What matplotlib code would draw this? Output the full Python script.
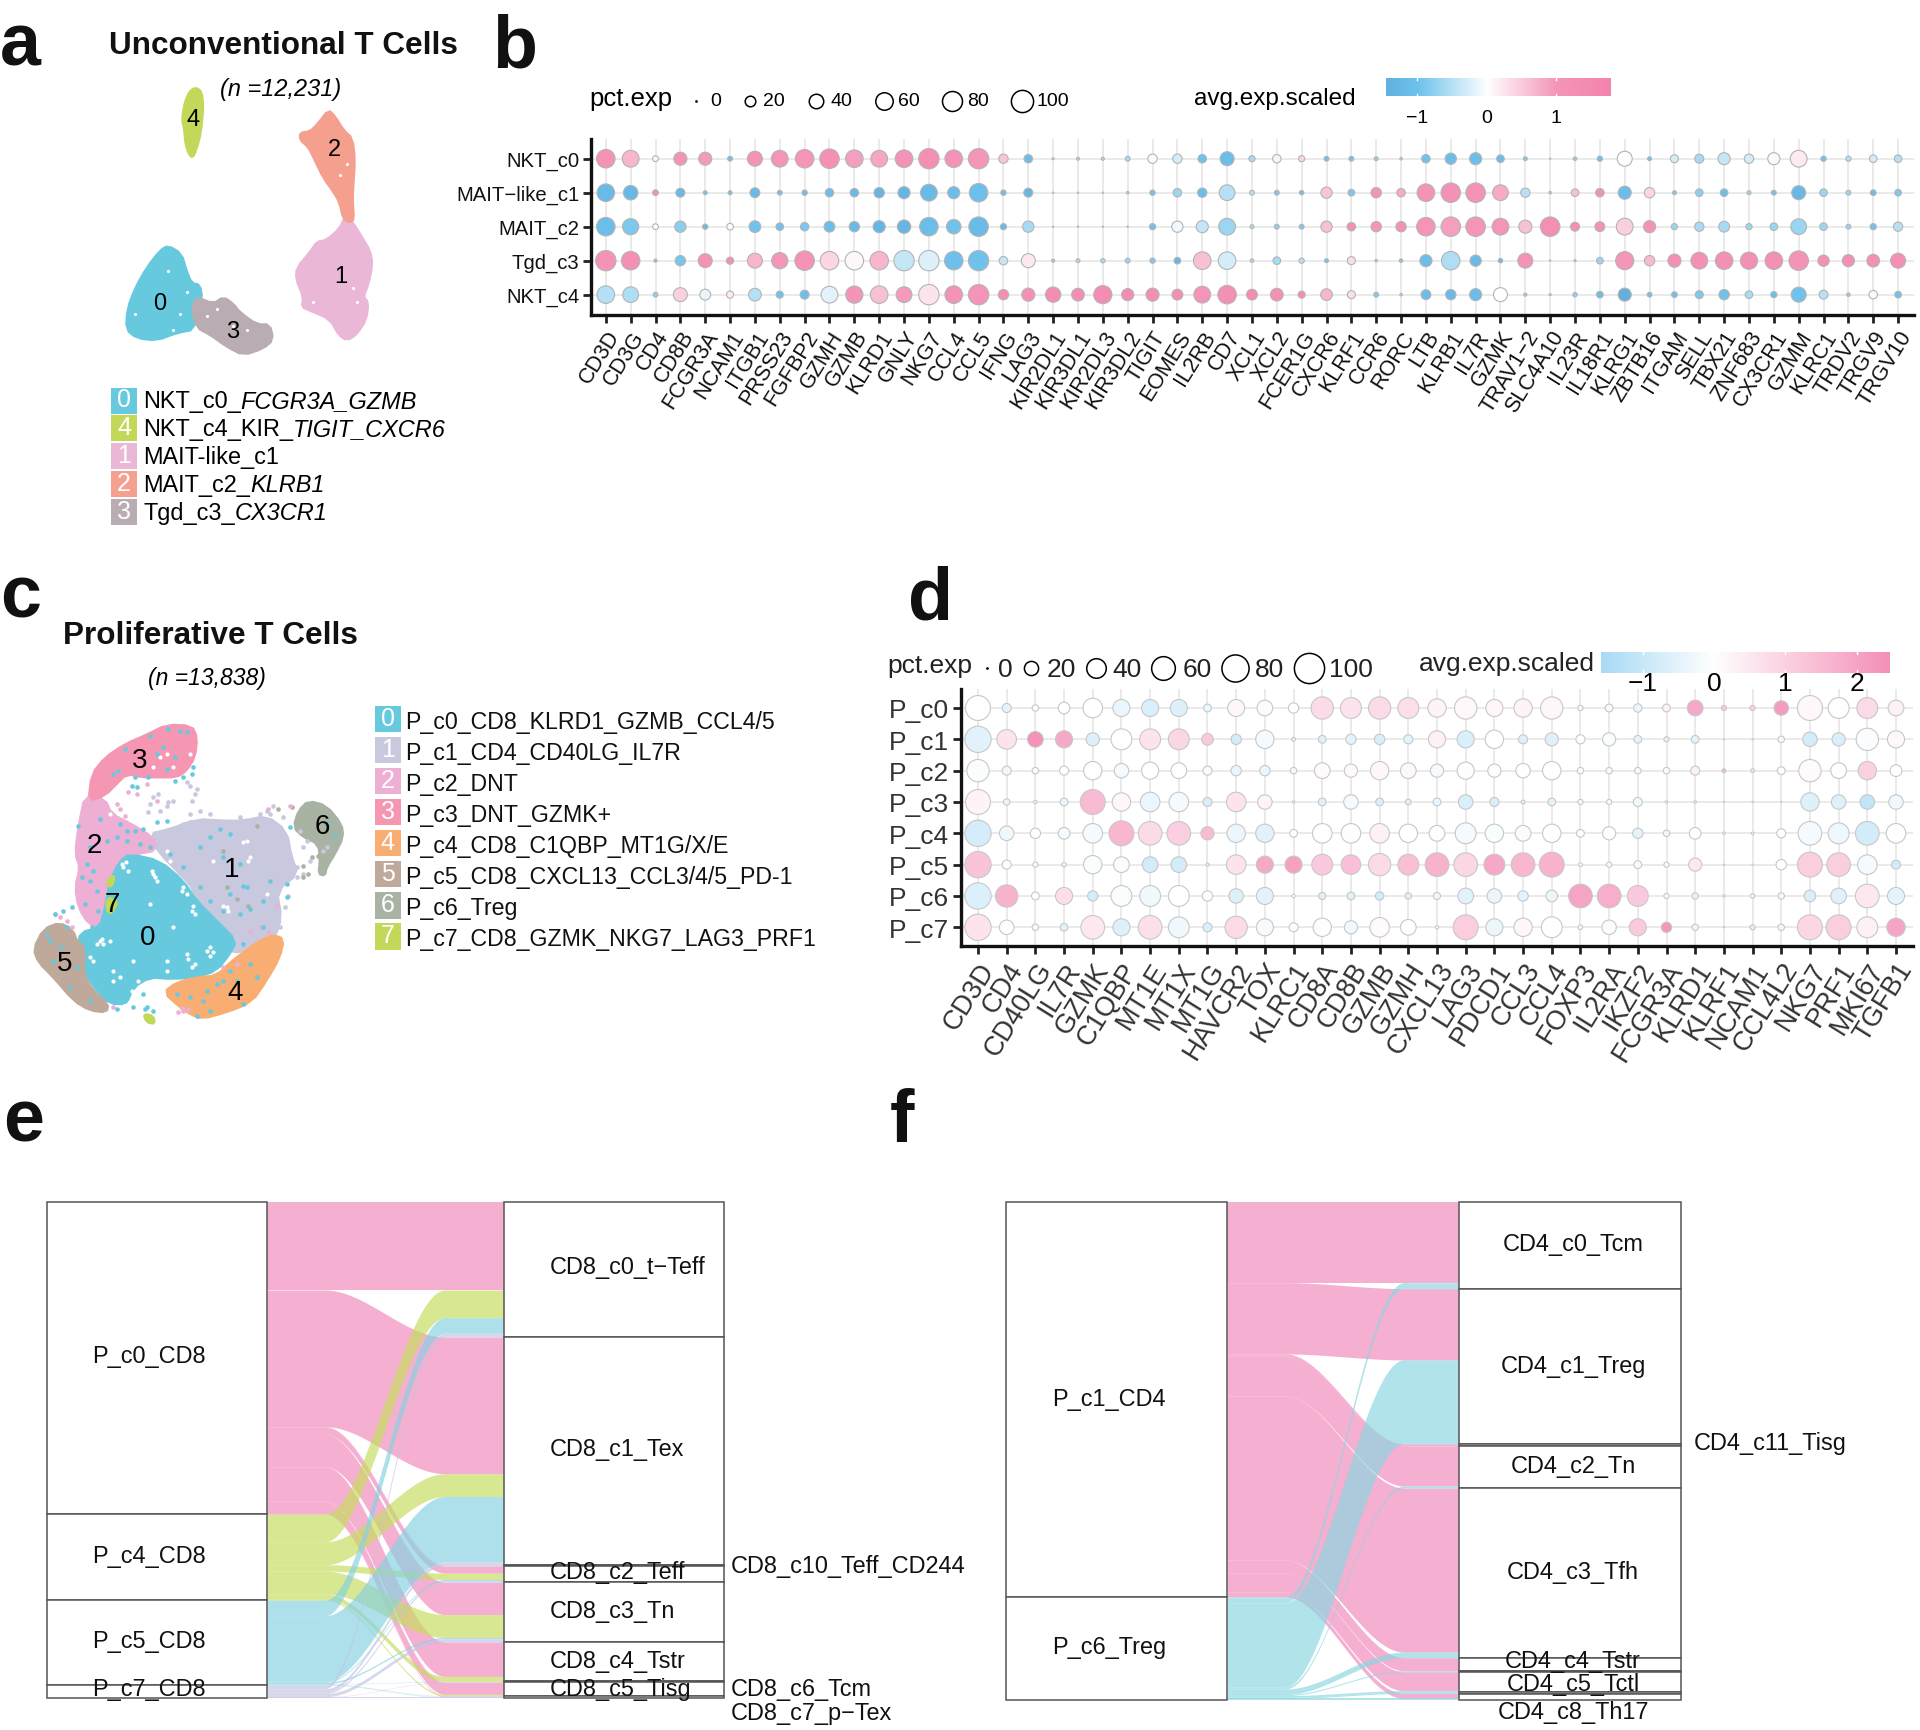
import numpy as np
from matplotlib import pyplot as plt
from matplotlib.colors import LinearSegmentedColormap, Normalize
from matplotlib.patches import Polygon

plt.rcParams["font.family"] = ["Liberation Sans", "DejaVu Sans"]

W, H = 1920, 1731

# ---- panel a, UMAP cluster outlines (traced)
a_cluster_0 = [(505,716),(545,740),(560,790),(575,825),(600,830),(607,870),(585,900),(585,960),(530,970),(470,992),(410,985),(378,960),(382,900),(405,840),(440,780),(480,730)]
a_cluster_1 = [(1035,630),(1060,650),(1085,690),(1110,730),(1118,770),(1105,830),(1090,865),(1105,880),(1100,930),(1070,975),(1040,992),(1015,975),(990,930),(930,905),(905,895),(910,865),(888,815),(890,780),(930,735),(950,705),(980,700),(1020,665)]
a_cluster_2 = [(985,322),(1005,340),(1030,380),(1058,405),(1065,470),(1060,540),(1058,585),(1062,640),(1050,650),(1030,640),(1018,590),(1000,560),(970,520),(945,470),(925,430),(900,410),(900,388),(930,385),(955,360)]
a_cluster_3 = [(590,865),(640,885),(670,865),(700,885),(720,910),(770,945),(810,945),(820,990),(790,1015),(730,1035),(680,1010),(630,975),(590,955),(575,900)]
a_cluster_4 = [(590,258),(605,270),(610,310),(606,360),(600,400),(590,435),(578,462),(566,450),(556,420),(553,380),(546,350),(552,310),(562,280),(575,262)]
a_holes = [(405,915),(520,960),(540,915),(505,790),(560,850),(1040,480),(1020,510),(940,880),(1070,880),(1060,840),(740,960),(650,900),(700,950),(620,920)]
a_colors = ["#67C9DE", "#EBB7D7", "#F5A08F", "#B9ACB2", "#C3D858"]
a_centers = [(480,882),(1022,805),(1002,435),(697,965),(580,348)]
a_legend_ids = ["0", "4", "1", "2", "3"]
a_legend_plain = ["NKT_c0_", "NKT_c4_KIR_", "MAIT-like_c1", "MAIT_c2_", "Tgd_c3_"]
a_legend_italic = ["FCGR3A_GZMB", "TIGIT_CXCR6", "", "KLRB1", "CX3CR1"]

# ---- panel b, dot plot
b_genes = ["CD3D","CD3G","CD4","CD8B","FCGR3A","NCAM1","ITGB1","PRSS23","FGFBP2","GZMH","GZMB","KLRD1","GNLY","NKG7","CCL4","CCL5","IFNG","LAG3","KIR2DL1","KIR3DL1","KIR2DL3","KIR3DL2","TIGIT","EOMES","IL2RB","CD7","XCL1","XCL2","FCER1G","CXCR6","KLRF1","CCR6","RORC","LTB","KLRB1","IL7R","GZMK","TRAV1\u22122","SLC4A10","IL23R","IL18R1","KLRG1","ZBTB16","ITGAM","SELL","TBX21","ZNF683","CX3CR1","GZMM","KLRC1","TRDV2","TRGV9","TRGV10"]
b_rows = ["NKT_c0", "MAIT\u2212like_c1", "MAIT_c2", "Tgd_c3", "NKT_c4"]
b_pct = [
    [68,55,4.7,32,32,3,43,55,68,76,61,55,61,83,61,83,15,12,.2,.8,.8,3,15,15,12,37,5.7,12,5.7,3,3,1.7,.4,12,23,27,9.3,1.7,0,1.2,3.8,43,1.7,10.6,13.7,27,15,27,55,3.8,3.8,9.3,9.3],
    [61,40,4.7,13.7,1.7,1.7,17,3,3.8,12,12,19,27,55,27,68,3.8,13.7,0,0,0,.4,3.8,12,15,48,3,3,2.3,23,6.8,19,12,61,76,76,48,15,.4,9.3,12,32,19,1.7,9.3,9.3,1.7,3,37,9.3,3,4.7,6.8],
    [68,51,4.7,23,3.8,6.8,25,9.3,12,21,19,27,34,68,40,76,5.7,23,0,0,0,0,5.7,23,27,55,1.7,3,3,23,12,19,19,68,76,76,55,32,76,13.7,17,55,27,5.7,15,21,5.7,9.3,48,9.3,3,5.7,15],
    [83,68,.8,19,37,8,43,51,76,68,68,68,83,83,68,83,12,37,.8,1.7,2.3,3,3.8,6.8,61,61,1.2,9.3,3.8,1.7,10.6,.4,1.2,27,68,23,2.3,43,0,.2,6.8,65,19,32,55,61,58,61,76,23,27,30,43],
    [61,48,3,37,21,8,30,8,13.7,55,58,61,48,83,61,83,19,32,45,30,65,27,32,21,55,68,21,30,8,25,10.6,3,.4,17,19,27,37,.8,.2,2.3,6.8,32,3,4.7,10.6,19,9.3,5.7,43,13.7,1.2,12,6.8],
]
b_avg = [
    [1.1,.7,.1,1.1,.95,-1,1.1,1.05,1,1.2,.9,.85,1.1,1.3,1.1,1,.55,-1.1,-.5,-.6,-.6,-.6,-.05,-.3,-1,-1.1,-.6,-.1,.4,-1,-1,-.8,-.5,-1,-1.1,-1.1,-1.1,-.9,-.5,-.8,-1,-.02,-1,-.3,-.6,-.4,-.3,-.05,.2,-1,-.5,-.3,-.5],
    [-1.2,-1.25,1.2,-1.2,-1,-1,-1.2,-1,-1.1,-1.1,-1.2,-1.3,-1.3,-1.2,-1.1,-1.05,-1.1,-1.3,-.5,-.5,-.5,-.6,-1,-.7,-1.1,-.5,-.5,-.9,-1,.55,-.9,1.1,.8,1.05,1.15,1.1,.8,-.5,-.6,.6,1.2,-1.1,.4,-.9,-.8,-1.1,-.7,-1,-1.25,-.7,-.7,-1.1,-.9],
    [-1.1,-.9,.02,-.8,-1.2,.05,-1,-1,-.9,-1.1,-1.2,-1.3,-1.3,-1.1,-1,-1.15,-1.2,-.6,-.5,-.5,-.5,-.5,-1,-.1,-.4,-.7,-.6,-.8,-.9,.6,1.2,1,1.15,1.05,.9,1,1.05,.6,1.3,1.2,1.15,.45,1.1,-.7,-.6,-.6,-.7,-.7,-.7,-.7,-.7,-1,-.5],
    [1.1,1.2,-1,-.95,1.1,1.3,.7,1,1.1,.4,.08,.7,-.4,-.22,-1.05,-1,-.4,.2,-.7,-.6,-.6,-.7,-.9,-1.3,.6,-.3,-.6,-.6,-.5,-1,.3,-.6,-.9,-1.1,-.55,-1.2,-1.1,1.1,-.5,-.5,-.7,1,.65,1.25,1.25,1.25,1.25,1.25,1.1,1.25,1.25,1.25,1.3],
    [-.5,-.55,-.8,.45,-.15,.2,-.5,-1,-1.05,-.2,1.05,.6,.95,.25,1.1,1.05,1.3,1.2,1.35,1.3,1.35,1.35,1.3,1.3,1.05,1.25,1.35,1.25,1.35,.7,.3,-.9,-.5,-1.1,-1.2,-1.1,0,-.8,-.5,-.8,-1.1,-1.5,-1,-1,-.9,-1,-.6,-1.1,-1,-.5,-.8,-.05,-1],
]

# ---- panel c, UMAP cluster outlines (traced)
c_cluster_0 = [(360,420),(450,440),(520,500),(560,560),(620,620),(680,680),(660,720),(620,770),(560,790),(480,795),(420,790),(370,820),(350,870),(300,870),(260,830),(225,780),(205,700),(210,655),(270,640),(285,580),(300,500),(330,440)]
c_cluster_1 = [(415,360),(480,345),(560,315),(640,320),(700,320),(770,305),(830,350),(845,430),(865,480),(800,530),(815,610),(795,670),(700,720),(620,700),(580,630),(555,530),(500,470),(450,420)]
c_cluster_2 = [(225,240),(285,255),(305,300),(365,330),(430,370),(440,410),(380,420),(330,440),(300,490),(285,580),(270,640),(235,630),(205,580),(195,520),(210,460),(195,420),(205,340)]
c_cluster_3 = [(470,32),(545,35),(562,70),(555,130),(530,170),(500,190),(440,190),(400,190),(350,180),(320,210),(285,245),(235,262),(245,180),(285,130),(345,90),(410,62)]
c_cluster_4 = [(790,662),(822,675),(810,730),(770,800),(725,865),(650,895),(575,915),(540,900),(510,880),(460,835),(500,805),(560,790),(620,785),(660,745),(720,700),(750,680)]
c_cluster_5 = [(100,645),(150,625),(190,650),(200,680),(225,700),(220,780),(250,830),(295,870),(290,895),(240,890),(190,860),(130,790),(85,745),(70,705)]
c_cluster_6 = [(895,260),(950,275),(995,330),(1000,370),(975,420),(950,460),(945,485),(925,480),(930,440),(925,390),(880,370),(850,340),(865,290)]
c_cluster_7a = [(300,490),(315,485),(305,520),(290,510)]
c_cluster_7b = [(290,550),(325,560),(305,600),(290,590)]
c_cluster_7c = [(400,900),(430,905),(435,930),(410,925)]
c_colors = ["#67C9DE", "#C8C8DE", "#EDAFD3", "#F596B3", "#F8AD73", "#BFA99B", "#A8B3A3", "#C3D858"]
c_centers = [(413,668),(665,465),(252,393),(390,138),(675,835),(165,748),(938,335),(308,570)]
c_cyan_dots = [(345,105),(420,65),(475,45),(510,50),(530,55),(460,100),(440,120),(495,130),(470,165),(415,190),(375,190),(310,180),(325,170),(365,215),(380,218),(495,200),(520,190),(545,180),(550,160),(205,335),(270,315),(330,330),(350,350),(375,350),(400,345),(440,325),(470,320),(240,400),(230,450),(250,470),(215,490),(240,500),(225,570),(260,530),(280,610),(265,590),(245,640),(320,370),(290,380),(600,370),(630,345),(660,360),(570,400),(640,430),(700,515),(710,520),(660,540),(760,560),(720,585),(760,640),(830,550),(830,510),(780,500),(690,450),(840,340),(955,330),(975,365),(120,680),(110,660),(150,700),(170,640),(200,760),(180,820),(240,860),(130,740),(540,850),(580,860),(620,810),(640,800),(680,800),(740,790),(700,870),(600,890),(560,905),(500,840),(590,830),(660,770),(720,750),(400,840),(410,880),(430,890),(370,880),(160,590),(135,600),(185,580),(345,860),(320,885),(405,885),(620,700),(700,690),(690,600),(640,590),(600,560),(570,520),(520,460),(480,420),(420,400),(390,390),(350,380)]
c_lav_dots = [(540,215),(555,240),(545,260),(570,290),(520,330),(500,350),(490,260),(470,275),(430,250),(415,295),(450,290),(540,300),(600,300),(690,310),(770,290),(790,275),(880,400),(900,440),(880,480),(860,490),(890,380),(820,310),(940,410),(950,400),(870,350),(530,205),(560,225),(475,265),(445,240),(420,270),(525,345),(545,325),(810,640),(825,580),(835,545),(860,460),(780,300),(750,300)]
c_sage_dots = [(880,455),(895,480),(905,430),(925,425),(880,490),(845,280),(805,285),(740,335),(640,410),(650,520),(715,575),(680,555)]
c_pink_dots = [(380,240),(355,235),(410,210),(440,260),(775,285),(840,275),(800,575),(720,650),(750,640),(775,655),(640,760),(680,750),(330,285),(345,305),(320,270),(170,620),(185,640),(135,600),(150,610),(310,880),(520,890),(505,895),(535,885),(515,882)]
c_holes = [(340,460),(355,470),(430,480),(440,500),(520,520),(530,540),(545,590),(555,600),(650,580),(530,720),(545,760),(270,680),(280,690),(250,740),(240,730),(590,710),(600,725),(370,740),(385,800),(490,640),(720,430),(700,385),(710,380),(610,440),(770,540),(450,130),(430,160),(540,120),(470,120),(490,160),(300,300),(480,440),(470,410),(420,570),(300,680),(310,770),(470,770),(275,675),(262,690),(335,450),(348,445),(435,490),(425,470),(515,530),(550,575),(655,590),(640,575),(535,735),(555,750),(600,700),(610,715),(715,440),(470,740),(310,800),(330,790),(365,830),(400,830),(440,810)]
c_legend_ids = ["0", "1", "2", "3", "4", "5", "6", "7"]
c_legend_names = ["P_c0_CD8_KLRD1_GZMB_CCL4/5", "P_c1_CD4_CD40LG_IL7R", "P_c2_DNT", "P_c3_DNT_GZMK+", "P_c4_CD8_C1QBP_MT1G/X/E", "P_c5_CD8_CXCL13_CCL3/4/5_PD-1", "P_c6_Treg", "P_c7_CD8_GZMK_NKG7_LAG3_PRF1"]

# ---- panel d, dot plot
d_genes = ["CD3D","CD4","CD40LG","IL7R","GZMK","C1QBP","MT1E","MT1X","MT1G","HAVCR2","TOX","KLRC1","CD8A","CD8B","GZMB","GZMH","CXCL13","LAG3","PDCD1","CCL3","CCL4","FOXP3","IL2RA","IKZF2","FCGR3A","KLRD1","KLRF1","NCAM1","CCL4L2","NKG7","PRF1","MKI67","TGFB1"]
d_rows = ["P_c0", "P_c1", "P_c2", "P_c3", "P_c4", "P_c5", "P_c6", "P_c7"]
d_pct = [
    [67,7.4,3.3,13,40,30,30,30,5.2,30,25,10,53,46,53,46,35,53,30,35,53,1.9,5.2,6.2,5.2,25,1.9,1.9,21,67,46,46,25],
    [75,40,25,30,17,46,46,46,13,10,35,.8,5.2,10,10,7.4,30,30,35,7.4,17,7.4,17,5.2,1.9,5.2,0,0,3.3,21,17,53,30],
    [53,7.4,3.3,7.4,35,21,30,25,7.4,10,10,3.3,25,17,35,25,17,30,17,21,35,3.3,3.3,3.3,3.3,7.4,.8,.8,5.2,53,25,35,13],
    [67,3.3,.5,5.2,67,35,40,40,7.4,40,21,.2,5.2,21,5.2,2.5,5.2,21,7.4,.8,5.2,1.9,1.9,7.4,.2,.2,0,0,0,35,21,21,21],
    [75,21,10,13,40,67,60,60,17,35,35,5.2,40,40,40,35,25,46,35,25,35,5.2,17,10,3.3,13,.2,.2,7.4,60,46,60,40],
    [75,7.4,1.9,1.3,35,25,25,25,.5,40,30,30,46,40,53,46,60,60,46,60,67,.8,1.9,5.2,1.9,17,0,0,10,67,60,40,7.4],
    [75,53,5.2,30,10,46,46,46,10,21,30,.5,4.2,5.2,6.2,3.3,4.2,25,21,10,13,60,60,46,1.9,3.3,.2,1.3,3.3,13,25,60,30],
    [75,21,3.3,5.2,60,30,60,46,7.4,53,30,7.4,35,17,40,25,.5,67,30,35,46,1.3,21,30,10,3.3,0,1.9,3.3,67,67,46,35],
]
d_avg = [
    [-.02,-.5,-.1,0,0,-.4,-.7,-.6,-.4,.2,.1,0,.8,.6,.8,.7,.25,.15,.2,.25,.2,.1,-.2,-.4,.3,1.9,1.2,1,2.2,.15,.02,.8,.3],
    [-.55,.6,2.4,1.9,-.6,0,.6,.9,1.2,-.8,-.2,-.5,-.6,-.5,-.7,-.5,.3,-.7,0,-.6,-.6,0,-.1,-.5,-.5,-.5,0,0,-.2,-.8,-.7,-.1,.15],
    [-.1,-.3,-.1,0,-.02,-.2,0,0,.1,-.4,-.4,-.2,.1,.1,.2,.15,-.2,-.05,-.05,0,0,-.1,-.2,-.2,.1,.3,1.6,.6,-.05,.1,0,1,0],
    [.25,-.4,-.2,-.4,1.5,.2,-.4,-.2,-.7,.6,.25,0,-.6,-.2,-.7,-.6,-.4,-.7,-.7,-.4,-.5,-.1,-.1,-.3,0,0,0,0,0,-.6,-.6,-1.1,-.3],
    [-.75,-.3,0,-.2,-.2,1.6,.8,1.05,1.5,-.35,-.55,-.05,.02,.02,.3,0,-.05,-.2,-.1,-.1,-.05,-.02,-.02,-.5,-.3,0,0,0,0,-.2,-.3,-.8,-.02],
    [1.3,0,-.1,-.4,-.1,-.1,-.8,-.8,-.5,.6,1.9,2.1,1.2,1.4,.8,1.4,1.7,.9,1.9,1.6,1.7,0,-.1,-.1,-.1,.5,0,0,0,1.1,1.1,-.2,-.8],
    [-.65,1.7,0,.7,-.8,-.1,-.25,0,.05,-.6,-.55,0,-.6,-.6,-.8,-.6,-.3,-.5,-.4,-.5,-.4,2,1.8,1.2,-.2,-.5,0,.3,-.3,-.7,-.6,.5,-.5],
    [.6,0,-.2,-.6,.5,-.6,.7,-.3,-.7,.8,-.2,.05,-.02,-.3,.1,.02,0,1.1,-.35,.2,0,.1,.1,1.2,2.3,-.4,0,.6,-.3,.9,1.1,.3,2],
]
pct_legend = [0, 20, 40, 60, 80, 100]

# ---- panels e and f, alluvial flows (rows: left stratum, columns: right stratum)
e_left = ["P_c0_CD8", "P_c4_CD8", "P_c5_CD8", "P_c7_CD8"]
e_right = ["CD8_c0_t\u2212Teff", "CD8_c1_Tex", "CD8_c2_Teff", "CD8_c3_Tn", "CD8_c4_Tstr", "CD8_c5_Tisg"]
e_outer = ["CD8_c10_Teff_CD244", "CD8_c6_Tcm", "CD8_c7_p\u2212Tex"]
e_flows = [
    [252, 389, 2, 20, 92, 98, 1, 34, 2],
    [79, 65, 0, 18, 65, 14, 0, 4, 0],
    [44, 186, 1, 3, 4, 0, 1, 1, 1],
    [11, 9, 0, 5, 9, 0, 1, 0, 1],
]
e_colors = ["#F18ABA", "#C6DC5E", "#86D2E0", "#C4C4E4"]
f_left = ["P_c1_CD4", "P_c6_Treg"]
f_right = ["CD4_c0_Tcm", "CD4_c1_Treg", "CD4_c2_Tn", "CD4_c3_Tfh", "CD4_c4_Tstr", "CD4_c5_Tctl", "CD4_c8_Th17"]
f_flows = [
    [231, 203, 6, 114, 467, 37, 0, 54, 0, 14],
    [17, 239, 0, 6, 16, 0, 3, 5, 3, 3],
]
f_colors = ["#F18ABA", "#8CD6E2"]

b_cmap = LinearSegmentedColormap.from_list("b", [(0, "#63B0DF"), (0.14, "#6DC2EC"), (0.45, "#FFFFFF"), (0.76, "#F495B9"), (1, "#F483AD")])
b_norm = Normalize(-1.46, 1.78)
d_cmap = LinearSegmentedColormap.from_list("d", [(0, "#A8DAF5"), (0.39, "#FFFFFF"), (1, "#F48FB8")])
d_norm = Normalize(-1.59, 2.47)


def add_ax(x0, y0, x1, y1):
    return fig.add_axes([x0 / W, 1 - y1 / H, (x1 - x0) / W, (y1 - y0) / H])


def dot_size(pct, dmax):
    return ((dmax * np.sqrt(np.asarray(pct, dtype=float) / 100) + 1.2) * 0.72) ** 2


def dot_plot(ax, genes, rows, pct, avg, cmap, norm, dmax, xtick_size, ytick_size, tick_color, rotation, edge):
    xs, ys = np.meshgrid(np.arange(1, len(genes) + 1), np.arange(1, len(rows) + 1))
    ax.scatter(xs.ravel(), ys.ravel(), s=dot_size(pct, dmax).ravel(),
               c=np.asarray(avg).ravel(), cmap=cmap, norm=norm,
               edgecolors=edge, linewidths=0.8, zorder=3, clip_on=False)
    ax.set_xticks(np.arange(1, len(genes) + 1))
    ax.set_xticklabels(genes, rotation=rotation, ha="right", rotation_mode="anchor",
                       fontsize=xtick_size, color=tick_color)
    ax.set_yticks(np.arange(1, len(rows) + 1))
    ax.set_yticklabels(rows, fontsize=ytick_size, color=tick_color)
    ax.grid(True, color="#e4e4e4", linewidth=1.1)
    ax.set_axisbelow(True)
    ax.tick_params(length=5.5, width=2, color="#222222", pad=3)
    for side in ["top", "right"]:
        ax.spines[side].set_visible(False)
    for side in ["left", "bottom"]:
        ax.spines[side].set_linewidth(2.4)
        ax.spines[side].set_color("#111111")


def color_bar(x0, y0, x1, y1, cmap, norm, ticks, tick_size, label_y):
    cax = add_ax(x0, y0, x1, y1)
    grad = np.linspace(norm.vmin, norm.vmax, 256)[None, :]
    cax.imshow(grad, extent=[norm.vmin, norm.vmax, 0, 1], aspect="auto", cmap=cmap, norm=norm)
    cax.set_yticks([])
    cax.set_xticks([])
    for side in cax.spines:
        cax.spines[side].set_visible(False)
    for t in ticks:
        cax.plot([t, t], [0, 0.1], color="white", lw=1)
        cax.plot([t, t], [0.9, 1], color="white", lw=1)
        px = x0 + (t - norm.vmin) / (norm.vmax - norm.vmin) * (x1 - x0)
        page.text(px, label_y, str(t).replace("-", "\u2212"), ha="center", va="center", fontsize=tick_size)
    cax.set_ylim(0, 1)


def alluvial(ax, flows, colors, box_half, lo, hi, line_w):
    flows = np.asarray(flows, dtype=float)
    total = flows.sum()
    left_tot = flows.sum(axis=1)
    right_tot = flows.sum(axis=0)
    left_top = np.r_[0, np.cumsum(left_tot)[:-1]]
    right_top = np.r_[0, np.cumsum(right_tot)[:-1]]
    ts = np.linspace(1 + box_half, 2 - box_half, 160)
    frac = np.clip((ts - (1 + box_half)) / (1 - 2 * box_half), 0, 1)
    bend = np.clip((frac - lo) / (hi - lo), 0, 1)
    bend = bend * bend * (3 - 2 * bend)
    right_used = right_top.copy()
    for i in range(flows.shape[0]):
        left_used = left_top[i]
        for j in range(flows.shape[1]):
            v = flows[i, j]
            if v <= 0:
                continue
            top = left_used + (right_used[j] - left_used) * bend
            ax.fill_between(ts, top, top + v, color=colors[i], alpha=0.68, linewidth=0)
            left_used += v
            right_used[j] += v
    ax.bar(np.full(len(left_tot), 1.0), left_tot, bottom=left_top, width=2 * box_half,
           facecolor="white", edgecolor="#555555", linewidth=line_w, clip_on=False)
    ax.bar(np.full(len(right_tot), 2.0), right_tot, bottom=right_top, width=2 * box_half,
           facecolor="white", edgecolor="#555555", linewidth=line_w, clip_on=False)
    ax.set_xlim(1 - box_half, 2 + box_half)
    ax.set_ylim(total, 0)
    ax.axis("off")


def smooth(pts, rounds=2):
    # corner cutting, the traced outlines are coarse
    arr = np.array(pts, dtype=float)
    for _ in range(rounds):
        nxt = np.roll(arr, -1, axis=0)
        arr = np.column_stack([0.75 * arr + 0.25 * nxt, 0.25 * arr + 0.75 * nxt]).reshape(-1, 2)
    return arr


def fill_umap(ax, clusters, colors, rounds=2):
    for pts, col in zip(clusters, colors):
        ax.add_patch(Polygon(smooth(pts, rounds), closed=True, facecolor=col, edgecolor=col, linewidth=1.6, joinstyle="round"))


def scatter_xy(ax, pts, color, size):
    arr = np.array(pts)
    ax.scatter(arr[:, 0], arr[:, 1], s=size, color=color, linewidths=0, zorder=3)


fig = plt.figure(figsize=(W / 100, H / 100), dpi=100, facecolor="white")
page = fig.add_axes([0, 0, 1, 1], zorder=10)
page.set_xlim(0, W)
page.set_ylim(H, 0)
page.axis("off")

# panel letters
for letter, x, y in [("a", 0, 66), ("b", 492, 67), ("c", 0, 618), ("d", 908, 620), ("e", 3, 1142), ("f", 890, 1142)]:
    page.text(x, y, letter, fontsize=53, fontweight="bold", va="baseline", ha="left", color="#111111")

# ---- a
ax_a = add_ax(100, 72.3, 420, 366.7)
ax_a.set_xlim(300, 1260)
ax_a.set_ylim(1065, 210)
ax_a.axis("off")
fill_umap(ax_a, [a_cluster_0, a_cluster_1, a_cluster_2, a_cluster_3, a_cluster_4], a_colors, rounds=1)
scatter_xy(ax_a, a_holes, "white", 5)
for i, (cx, cy) in enumerate(a_centers):
    ax_a.text(cx, cy, str(i), fontsize=17, ha="center", va="center", zorder=5)
page.text(283.5, 45.5, "Unconventional T Cells", fontsize=22.7, fontweight="bold", ha="center", va="center", color="#111111")
page.text(281, 89.5, "(n =12,231)", fontsize=16.9, style="italic", ha="center", va="center")

renderer = fig.canvas.get_renderer()
for i, (num, plain, ital) in enumerate(zip(a_legend_ids, a_legend_plain, a_legend_italic)):
    y0 = 388.5 + i * 27.9
    page.fill_between([111, 137.3], y0, y0 + 26, color=a_colors[int(num)], linewidth=0)
    page.text(124, y0 + 12, num, color="white", fontsize=18, ha="center", va="center")
    t = page.text(143, y0 + 20, plain, fontsize=16.9, va="baseline", ha="left")
    if ital:
        x_end = t.get_window_extent(renderer).x1
        page.text(x_end, y0 + 20, ital, fontsize=16.9, style="italic", va="baseline", ha="left")

# ---- b
ax_b = add_ax(591, 140, 1914, 315.7)
dot_plot(ax_b, b_genes, b_rows, b_pct, b_avg, b_cmap, b_norm, 21, 15.5, 14.6, "#111111", 58, "#b4b4b4")
ax_b.set_xlim(0.404, 53.64)
ax_b.set_ylim(5.59, 0.42)

page.text(589, 99, "pct.exp", fontsize=18.5, ha="left", va="center")
for p, dx, lx in zip(pct_legend, [696, 749.5, 815.6, 883.6, 952, 1022], [715.5, 774, 841, 909, 977.7, 1053]):
    page.scatter([dx], [101.5], s=dot_size(p, 21), facecolors="white", edgecolors="black", linewidths=1.1)
    page.text(lx, 102, str(p), fontsize=14, ha="center", va="center")
page.text(1356, 99, "avg.exp.scaled", fontsize=17.5, ha="right", va="center")
color_bar(1385.5, 79, 1610, 97, b_cmap, b_norm, [-1, 0, 1], 14, 118.5)

# ---- c
ax_c = add_ax(10, 715, 360, 1035)
ax_c.set_xlim(0, 1050)
ax_c.set_ylim(960, 0)
ax_c.axis("off")
fill_umap(ax_c, [c_cluster_1, c_cluster_2, c_cluster_3, c_cluster_0, c_cluster_4, c_cluster_5, c_cluster_6,
                 c_cluster_7a, c_cluster_7b, c_cluster_7c],
          [c_colors[1], c_colors[2], c_colors[3], c_colors[0], c_colors[4], c_colors[5], c_colors[6],
           c_colors[7], c_colors[7], c_colors[7]], rounds=1)
scatter_xy(ax_c, c_holes, "white", 9)
scatter_xy(ax_c, c_lav_dots, c_colors[1], 11)
scatter_xy(ax_c, c_sage_dots, c_colors[6], 11)
scatter_xy(ax_c, c_pink_dots, c_colors[2], 11)
scatter_xy(ax_c, c_cyan_dots, c_colors[0], 11)
for i, (cx, cy) in enumerate(c_centers):
    ax_c.text(cx, cy, str(i), fontsize=20, ha="center", va="center", zorder=5)
page.text(210, 636, "Proliferative T Cells", fontsize=22.7, fontweight="bold", ha="center", va="center", color="#111111")
page.text(207, 679, "(n =13,838)", fontsize=16.5, style="italic", ha="center", va="center")
for i, (num, name) in enumerate(zip(c_legend_ids, c_legend_names)):
    y0 = 706.7 + i * 31.05
    page.fill_between([374.6, 401], y0, y0 + 26.5, color=c_colors[int(num)], linewidth=0)
    page.text(387.8, y0 + 12, num, color="white", fontsize=18, ha="center", va="center")
    page.text(405, y0 + 22, name, fontsize=16.7, ha="left", va="baseline", color="#111111")

# ---- d
ax_d = add_ax(961.3, 690, 1913, 946.7)
dot_plot(ax_d, d_genes, d_rows, d_pct, d_avg, d_cmap, d_norm, 29, 19.5, 19, "#333333", 58, "#c8c8c8")
ax_d.set_xlim(1 - 16.7 / 28.69, 33 + 17 / 28.69)
ax_d.set_ylim(8 + 18.4 / 31.33, 1 - 19 / 31.33)

page.text(887, 666, "pct.exp", fontsize=19, ha="left", va="center", color="#222222")
for p, dx, lx in zip(pct_legend, [987, 1031, 1096, 1163, 1235, 1309], [1005, 1061, 1127, 1197, 1269, 1351]):
    page.scatter([dx], [669], s=dot_size(p, 29), facecolors="white", edgecolors="black", linewidths=1.1)
    page.text(lx, 670, str(p), fontsize=19, ha="center", va="center", color="#222222")
page.text(1595, 664, "avg.exp.scaled", fontsize=19, ha="right", va="center", color="#222222")
color_bar(1601, 653, 1890, 673.5, d_cmap, d_norm, [-1, 0, 1, 2], 19, 684)

# ---- e
ax_e = add_ax(47, 1202.5, 724, 1698.5)
alluvial(ax_e, e_flows, e_colors, 0.2407, 0.245, 0.75, 1.1)
for name, y in zip(e_left, [1357, 1557, 1642, 1690]):
    page.text(92, y, name, fontsize=16.9, ha="left", va="center", color="#111111")
for name, y in zip(e_right, [1268, 1450, 1573, 1612, 1662, 1690]):
    page.text(550, y, name, fontsize=16.9, ha="left", va="center", color="#111111")
for name, y in zip(e_outer, [1567, 1690, 1714]):
    page.text(731, y, name, fontsize=16.9, ha="left", va="center", color="#111111")

# ---- f
ax_f = add_ax(1005.8, 1202.5, 1681, 1700.5)
alluvial(ax_f, f_flows, f_colors, 0.2443, 0.25, 0.76, 1.1)
for name, y in zip(f_left, [1400, 1648]):
    page.text(1109, y, name, fontsize=16.9, ha="center", va="center", color="#111111")
for name, y in zip(f_right, [1245, 1367, 1467, 1573, 1662, 1685, 1713]):
    page.text(1573, y, name, fontsize=16.9, ha="center", va="center", color="#111111")
page.text(1693.4, 1444, "CD4_c11_Tisg", fontsize=16.9, ha="left", va="center", color="#111111")

fig.savefig("out.png", dpi=100)
plt.close(fig)
